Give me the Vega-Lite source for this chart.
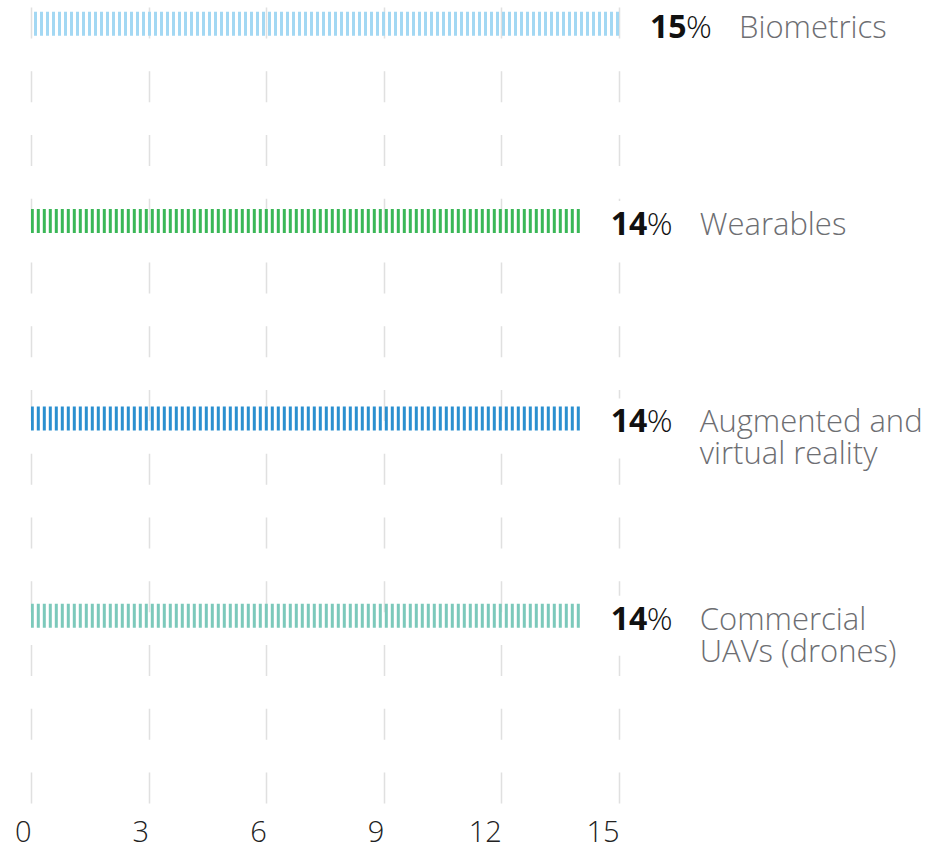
{
  "$schema": "https://vega.github.io/schema/vega-lite/v6.json",
  "width": 588,
  "height": 797,
  "autosize": {"type": "none"},
  "padding": {"left": 31, "top": 6, "right": 311, "bottom": 49},
  "background": "white",
  "config": {"view": {"stroke": null}, "font": "Open Sans"},
  "data": {
    "values": [
      {"category": "Biometrics", "value": 15, "label": "Biometrics"},
      {"category": "Wearables", "value": 14, "label": "Wearables"},
      {"category": "Augmented and virtual reality", "value": 14, "label": "Augmented and\nvirtual reality"},
      {"category": "Commercial UAVs (drones)", "value": 14, "label": "Commercial\nUAVs (drones)"}
    ]
  },
  "encoding": {
    "y": {
      "field": "category",
      "type": "nominal",
      "sort": null,
      "axis": null,
      "scale": {"paddingInner": 0.878, "paddingOuter": 0.459, "align": 0.032}
    },
    "x": {
      "field": "value",
      "type": "quantitative",
      "scale": {"domain": [0, 15], "nice": false},
      "axis": {
        "values": [0, 3, 6, 9, 12, 15],
        "title": null,
        "grid": true,
        "gridColor": "#e0e0e0",
        "gridWidth": 1.5,
        "gridDash": [31, 32.76],
        "domain": false,
        "ticks": false,
        "labelFont": "Open Sans",
        "labelFontSize": 29,
        "labelFontWeight": 300,
        "labelColor": "#222222",
        "labelAlign": "right",
        "labelBaseline": "top",
        "labelPadding": 15,
        "labelFlush": false,
        "labelOverlap": false
      }
    }
  },
  "layer": [
    {
      "mark": {"type": "bar", "color": "white", "height": 60, "yOffset": 10, "xOffset": 28},
      "encoding": {"x2": {"datum": 15.3}}
    },
    {
      "mark": {"type": "rule", "strokeWidth": 24, "strokeDash": [3, 3]},
      "encoding": {
        "x2": {"datum": 0},
        "color": {
          "field": "category",
          "type": "nominal",
          "legend": null,
          "scale": {
            "domain": ["Biometrics", "Wearables", "Augmented and virtual reality", "Commercial UAVs (drones)"],
            "range": ["#a3d8f3", "#3ab757", "#2a8fcf", "#7cc9bb"]
          }
        }
      }
    },
    {
      "mark": {"type": "text", "align": "left", "baseline": "alphabetic", "dx": 31, "dy": 14, "fontSize": 32, "fontWeight": "bold", "color": "#111111", "font": "Open Sans"},
      "encoding": {"text": {"field": "value", "type": "quantitative", "format": "d"}}
    },
    {
      "mark": {"type": "text", "align": "left", "baseline": "alphabetic", "dx": 67, "dy": 14, "fontSize": 32, "fontWeight": 300, "color": "#111111", "font": "Open Sans"},
      "encoding": {"text": {"datum": "%"}}
    },
    {
      "mark": {"type": "text", "align": "left", "baseline": "alphabetic", "dx": 120, "dy": 14, "fontSize": 31, "fontWeight": 300, "color": "#6d6e72", "font": "Open Sans", "lineBreak": "\n", "lineHeight": 32},
      "encoding": {"text": {"field": "label", "type": "nominal"}}
    }
  ]
}
